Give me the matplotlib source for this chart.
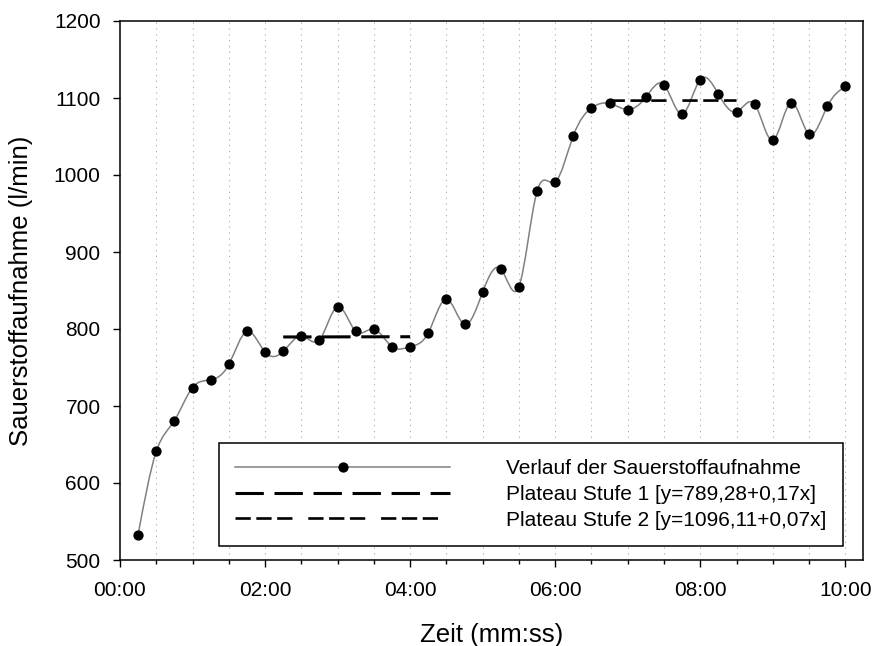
import numpy as np
import matplotlib
matplotlib.use("Agg")
import matplotlib.pyplot as plt
from matplotlib.path import Path
from matplotlib.patches import PathPatch
from matplotlib.lines import Line2D
from matplotlib.ticker import MultipleLocator, FuncFormatter

plt.rcParams['font.family'] = ['Liberation Sans', 'DejaVu Sans']
plt.rcParams['lines.scale_dashes'] = False

# ---- data ----
time_s = [15, 30, 45, 60, 75, 90, 105, 120, 135, 150,
          165, 180, 195, 210, 225, 240, 255, 270, 285, 300,
          315, 330, 345, 360, 375, 390, 405, 420, 435, 450,
          465, 480, 495, 510, 525, 540, 555, 570, 585, 600]
vo2 = [533, 641, 681, 724, 734, 754, 797, 770, 771, 791,
       786, 829, 797, 800, 777, 777, 795, 839, 806, 848,
       878, 855, 979, 991, 1051, 1087, 1093, 1085, 1101, 1117,
       1079, 1124, 1105, 1082, 1092, 1045, 1094, 1053, 1089, 1115]

plateau1_range_s = [135, 240]
plateau1_coef = [789.28, 0.17]
plateau2_range_s = [405, 510]
plateau2_coef = [1096.11, 0.07]

labels = ["Verlauf der Sauerstoffaufnahme",
          "Plateau Stufe 1 [y=789,28+0,17x]",
          "Plateau Stufe 2 [y=1096,11+0,07x]"]

# ---- figure ----
fig = plt.figure(figsize=(8.79, 6.46), dpi=100)
ax = fig.add_axes([120/879, 1-560/646, 743/879, 539/646])

x = np.asarray(time_s, float)
y = np.asarray(vo2, float)

# natural cubic spline drawn as Bezier path through the data points
n = len(x)
h = x[1] - x[0]
A = np.zeros((n, n)); rhs = np.zeros(n)
A[0, 0] = 1; A[-1, -1] = 1
for i in range(1, n-1):
    A[i, i-1] = 1; A[i, i] = 4; A[i, i+1] = 1
    rhs[i] = 6.0/h**2 * (y[i+1] - 2*y[i] + y[i-1])
M = np.linalg.solve(A, rhs)
d = np.zeros(n)
for i in range(n-1):
    d[i] = (y[i+1]-y[i])/h - h*(2*M[i] + M[i+1])/6
d[-1] = (y[-1]-y[-2])/h + h*(M[-2] + 2*M[-1])/6
verts = [(x[0], y[0])]
codes = [Path.MOVETO]
for i in range(n-1):
    verts += [(x[i] + h/3, y[i] + d[i]*h/3),
              (x[i+1] - h/3, y[i+1] - d[i+1]*h/3),
              (x[i+1], y[i+1])]
    codes += [Path.CURVE4]*3
ax.add_patch(PathPatch(Path(verts, codes), facecolor='none',
                       edgecolor='#808080', lw=1.1, zorder=2))

# plateau lines
p1x = np.array(plateau1_range_s, float)
p1y = plateau1_coef[0] + plateau1_coef[1]*(p1x/60)
p2x = np.array(plateau2_range_s, float)
p2y = plateau2_coef[0] + plateau2_coef[1]*(p2x/60)
dash1 = (0, (20.4, 7.7))
dash2 = (0, (11.0, 4.0, 11.0, 4.0, 11.0, 11.4))
ax.plot(p1x, p1y, color='black', lw=2.2, linestyle=dash1,
        dash_capstyle='butt', zorder=3)
ax.plot(p2x, p2y, color='black', lw=1.9, linestyle=dash2,
        dash_capstyle='butt', zorder=3)

# markers
ax.plot(x, y, linestyle='none', marker='o', ms=7.4, color='black',
        markeredgewidth=0, zorder=4)

# axes
ax.set_xlim(0, 614.6)
ax.set_ylim(500, 1200)
ax.xaxis.set_major_locator(MultipleLocator(120))
ax.xaxis.set_minor_locator(MultipleLocator(30))
ax.xaxis.set_major_formatter(FuncFormatter(lambda v, p: "%02d:%02d" % (int(round(v))//60, int(round(v)) % 60)))
ax.yaxis.set_major_locator(MultipleLocator(100))
ax.tick_params(axis='both', which='major', labelsize=15, length=5, width=1, direction='out', pad=10)
ax.tick_params(axis='x', which='minor', length=3, width=1, direction='out')
ax.tick_params(axis='y', which='major', pad=9)
for s in ax.spines.values():
    s.set_linewidth(1.1)

for gx in np.arange(30, 614, 30):
    ax.axvline(gx, color='#b4b4b4', lw=0.75, linestyle=(0, (1.0, 3.2)), zorder=1)

ax.set_xlabel("Zeit (mm:ss)", fontsize=18.5, labelpad=17)
ax.set_ylabel("Sauerstoffaufnahme (l/min)", fontsize=18.5, labelpad=15)

# legend
h1 = Line2D([], [], color='#808080', lw=1.1, marker='o', ms=7.4,
            markerfacecolor='black', markeredgecolor='black', markeredgewidth=0)
h2 = Line2D([], [], color='black', lw=2.2, linestyle=dash1, dash_capstyle='butt')
h3 = Line2D([], [], color='black', lw=1.9, linestyle=dash2, dash_capstyle='butt')
leg = ax.legend([h1, h2, h3], labels, loc='lower left',
                bbox_to_anchor=(99/743, 14/539), borderaxespad=0,
                fontsize=15, handlelength=10.3, handletextpad=2.7,
                numpoints=1, borderpad=0.78, labelspacing=0.33,
                fancybox=False, framealpha=1, edgecolor='black')
leg.get_frame().set_linewidth(1.1)
leg.set_zorder(5)

fig.savefig("out.png", dpi=100)
